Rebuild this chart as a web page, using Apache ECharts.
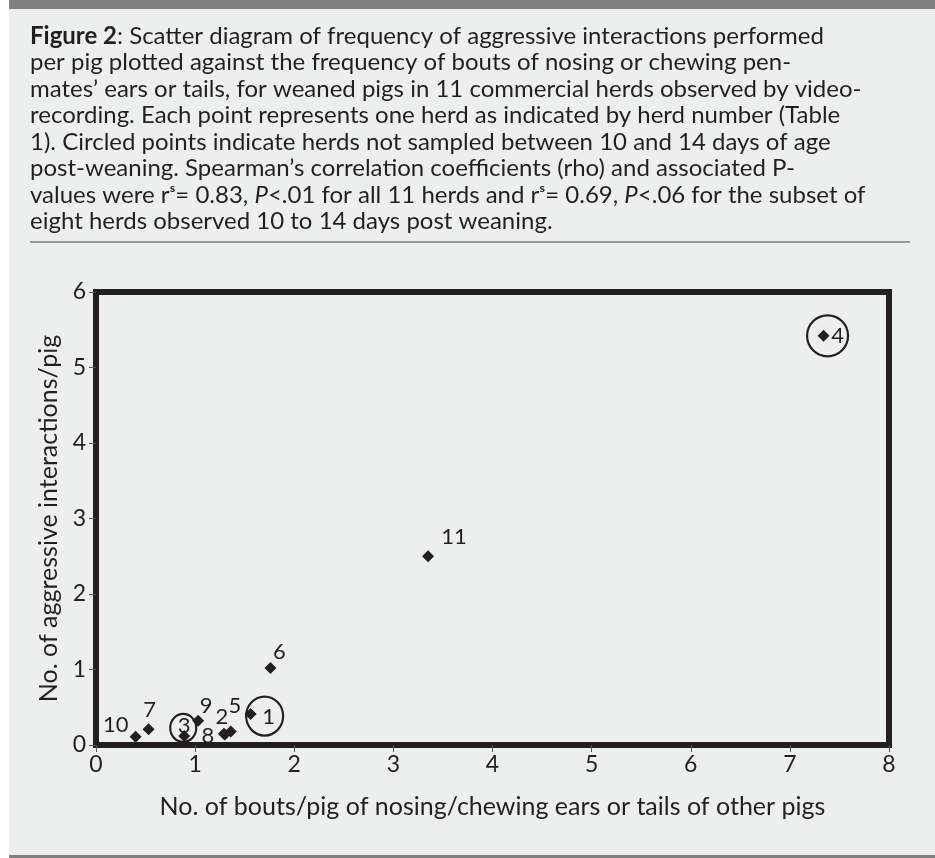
<!DOCTYPE html>
<html>
<head>
<meta charset="utf-8">
<script src="https://cdn.jsdelivr.net/npm/echarts@6/dist/echarts.min.js"></script>
<style>
  html, body { margin: 0; padding: 0; background: #ffffff; }
  #chart { width: 935px; height: 858px; }
</style>
</head>
<body>
<div id="chart"></div>
<script>
// ---- data ----
var herds   = ['1', '2', '3', '4', '5', '6', '7', '8', '9', '10', '11'];
var nosing  = [1.56, 1.29, 0.89, 7.34, 1.36, 1.76, 0.53, 1.30, 1.03, 0.40, 3.35];
var aggress = [0.41, 0.15, 0.12, 5.42, 0.18, 1.02, 0.21, 0.14, 0.32, 0.11, 2.50];
var circledHerds = ['1', '3', '4'];
var xTicks = [0, 1, 2, 3, 4, 5, 6, 7, 8];
var yTicks = [0, 1, 2, 3, 4, 5, 6];

var captionLines = [
  '{b|Figure 2}: Scatter diagram of frequency of aggressive interactions performed',
  'per pig plotted against the frequency of bouts of nosing or chewing pen-',
  'mates\u2019 ears or tails, for weaned pigs in 11 commercial herds observed by video-',
  'recording. Each point represents one herd as indicated by herd number (Table',
  '1). Circled points indicate herds not sampled between 10 and 14 days of age',
  'post-weaning. Spearman\u2019s correlation coefficients (rho) and associated P-',
  'values were r\u02e2= 0.83, {i|P}<.01 for all 11 herds and r\u02e2= 0.69, {i|P}<.06 for the subset of',
  'eight herds observed 10 to 14 days post weaning.'
];

// ---- styling (label placement relative to each point, in px) ----
var labelOffsets = {
  '1': [18, 3], '2': [-2, -17], '3': [0, -10], '4': [14, 0], '5': [4, -26],
  '6': [9, -16], '7': [1, -19], '8': [-17, 1], '9': [8, -15], '10': [-20, -12], '11': [26, -19]
};
var circleStyle = {
  '1': { offset: [14, 2], size: [37, 39] },
  '3': { offset: [-1, -8], size: [26, 28] },
  '4': { offset: [4, 0], size: [41, 41] }
};

var FONT = 'Lato, "Open Sans", sans-serif';
var INK = '#231f20';

var pointData = herds.map(function (h, i) {
  return {
    value: [nosing[i], aggress[i]],
    name: h,
    label: { show: true, position: 'inside', offset: labelOffsets[h], formatter: h }
  };
});

var circleData = circledHerds.map(function (h) {
  var i = herds.indexOf(h);
  return {
    value: [nosing[i], aggress[i]],
    symbolOffset: circleStyle[h].offset,
    symbolSize: circleStyle[h].size
  };
});

var chart = echarts.init(document.getElementById('chart'), null, { renderer: 'canvas' });

chart.setOption({
  animation: false,
  backgroundColor: '#ffffff',
  graphic: [
    { type: 'rect', z: -10, shape: { x: 9, y: 0, width: 926, height: 858 }, style: { fill: '#edefee' } },
    { type: 'rect', z: -9, shape: { x: 9, y: 0, width: 926, height: 9 }, style: { fill: '#808080' } },
    { type: 'rect', z: -9, shape: { x: 9, y: 855, width: 926, height: 3 }, style: { fill: '#808080' } },
    { type: 'line', z: -9, shape: { x1: 30, y1: 242, x2: 910, y2: 242 }, style: { stroke: '#9a9a9a', lineWidth: 2 } },
    {
      type: 'text', left: 30, top: 23,
      style: {
        text: captionLines.join('\n'),
        fontFamily: FONT, fontSize: 24, lineHeight: 26.5, fill: INK,
        rich: {
          b: { fontFamily: FONT, fontSize: 24, fontWeight: 'bold', fill: INK, lineHeight: 26.5 },
          i: { fontFamily: FONT, fontSize: 24, fontStyle: 'italic', fill: INK, lineHeight: 26.5 }
        }
      }
    }
  ],
  grid: {
    left: 96, right: 46, top: 292, bottom: 113,
    show: true, borderWidth: 6, borderColor: INK, backgroundColor: 'transparent'
  },
  xAxis: {
    type: 'value', min: 0, max: 8, interval: 1,
    name: 'No. of bouts/pig of nosing/chewing ears or tails of other pigs',
    nameLocation: 'middle', nameGap: 49, nameRotate: 0,
    nameTextStyle: { fontFamily: FONT, fontSize: 25, color: INK },
    axisLine: { show: true, lineStyle: { color: INK, width: 6 } },
    axisTick: { show: true, length: 7, lineStyle: { color: '#555', width: 1 } },
    axisLabel: { margin: 8, rotate: 0, fontFamily: FONT, fontSize: 23, color: INK,
      formatter: function (v) { return xTicks.indexOf(v) >= 0 ? String(v) : ''; } },
    splitLine: { show: false }
  },
  yAxis: {
    type: 'value', min: 0, max: 6, interval: 1,
    name: 'No. of aggressive interactions/pig',
    nameLocation: 'middle', nameGap: 34,
    nameTextStyle: { fontFamily: FONT, fontSize: 25, color: INK },
    axisLine: { show: true, lineStyle: { color: INK, width: 6 } },
    axisTick: { show: true, length: 7, lineStyle: { color: '#555', width: 1 } },
    axisLabel: { margin: 10, rotate: 0, fontFamily: FONT, fontSize: 23, color: INK,
      formatter: function (v) { return yTicks.indexOf(v) >= 0 ? String(v) : ''; } },
    splitLine: { show: false }
  },
  series: [
    {
      type: 'scatter', name: 'herds', symbol: 'diamond', symbolSize: 12,
      itemStyle: { color: INK, opacity: 1 },
      label: { fontFamily: FONT, fontSize: 22, color: INK, textBorderWidth: 0 },
      data: pointData, z: 3
    },
    {
      type: 'scatter', name: 'circled', symbol: 'circle',
      itemStyle: { color: 'rgba(0,0,0,0)', borderColor: INK, borderWidth: 2.2, opacity: 1 },
      data: circleData, z: 2, silent: true
    }
  ]
});
</script>
</body>
</html>
